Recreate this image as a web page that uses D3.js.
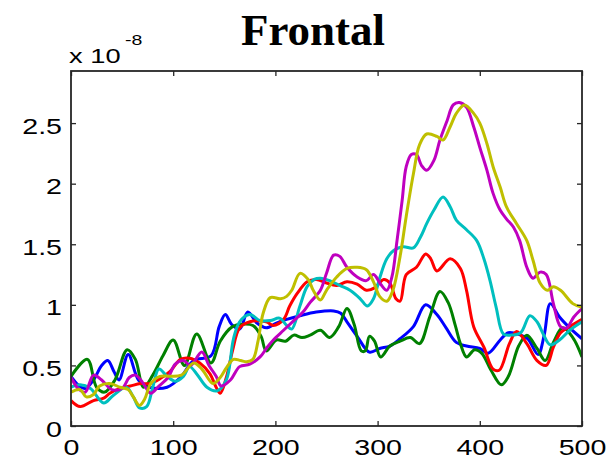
<!DOCTYPE html>
<html><head><meta charset="utf-8">
<script src="https://cdn.jsdelivr.net/npm/d3@7"></script>
<style>body{margin:0;background:#fff}</style>
</head><body>
<svg id="chart" width="606" height="459"></svg>
<script>
const chartTitle = "Frontal";
const xTicks = [0, 100, 200, 300, 400, 500];
const yTicks = [0, 0.5, 1, 1.5, 2, 2.5];
const yTickLabels = ["0", "0.5", "1", "1.5", "2", "2.5"];
const exponentBase = "x 10";
const exponentPower = "-8";

const blueSeries = [[0,0.41],[7,0.34],[14,0.31],[22,0.38],[30,0.50],[36,0.54],[42,0.45],[47,0.38],[56,0.59],[66,0.38],[77,0.32],[94,0.32],[107,0.40],[120,0.54],[137,0.58],[145,0.82],[151,0.92],[157,0.84],[165,0.80],[173,0.94],[182,0.85],[191,0.81],[201,0.85],[211,0.88],[224,0.91],[240,0.94],[257,0.95],[264,0.93],[270,0.86],[280,0.74],[292,0.61],[302,0.64],[312,0.66],[322,0.72],[335,0.82],[347,1.00],[358,0.92],[367,0.81],[377,0.69],[387,0.66],[400,0.64],[408,0.60],[420,0.71],[428,0.77],[440,0.75],[447,0.72],[457,0.59],[463,0.75],[469,1.01],[478,0.90],[488,0.81],[500,0.72]];
const greenSeries = [[0,0.41],[16,0.55],[25,0.32],[33,0.28],[43,0.38],[55,0.63],[63,0.55],[71,0.32],[80,0.42],[90,0.58],[100,0.71],[111,0.50],[123,0.76],[137,0.52],[146,0.70],[158,0.82],[168,0.84],[178,0.83],[186,0.74],[191,0.62],[201,0.71],[210,0.70],[218,0.75],[226,0.73],[234,0.75],[244,0.79],[253,0.73],[262,0.82],[270,0.97],[277,0.84],[284,0.62],[288,0.62],[292,0.74],[297,0.70],[303,0.57],[312,0.66],[322,0.70],[332,0.73],[341,0.68],[351,0.90],[361,1.11],[369,1.02],[376,0.83],[381,0.68],[387,0.57],[395,0.63],[402,0.60],[411,0.46],[421,0.34],[428,0.41],[438,0.66],[446,0.75],[456,0.64],[464,0.54],[472,0.69],[481,0.81],[491,0.73],[500,0.57]];
const redSeries = [[0,0.21],[9,0.16],[22,0.21],[32,0.23],[38,0.27],[48,0.31],[58,0.33],[68,0.35],[77,0.35],[87,0.39],[97,0.45],[107,0.55],[116,0.56],[126,0.52],[136,0.43],[142,0.32],[146,0.27],[152,0.40],[158,0.62],[165,0.81],[175,0.86],[191,0.86],[198,0.83],[208,0.88],[214,0.99],[221,1.09],[231,1.19],[240,1.21],[250,1.18],[260,1.16],[270,1.19],[280,1.17],[289,1.12],[297,1.14],[306,1.21],[312,1.18],[318,1.05],[322,1.03],[328,1.25],[338,1.31],[347,1.42],[352,1.38],[358,1.28],[371,1.38],[381,1.30],[387,1.12],[394,0.82],[404,0.65],[413,0.47],[419,0.46],[429,0.68],[436,0.78],[446,0.68],[456,0.54],[465,0.50],[472,0.65],[479,0.77],[488,0.82],[500,0.88]];
const cyanSeries = [[0,0.32],[9,0.34],[19,0.31],[32,0.19],[41,0.25],[54,0.32],[61,0.24],[67,0.15],[74,0.16],[80,0.32],[86,0.47],[94,0.41],[102,0.37],[110,0.41],[116,0.49],[123,0.43],[133,0.32],[143,0.29],[152,0.38],[159,0.72],[165,0.86],[175,0.92],[185,0.87],[195,0.87],[204,0.89],[211,0.83],[216,0.80],[224,0.99],[231,1.15],[238,1.21],[244,1.22],[253,1.20],[263,1.16],[273,1.12],[283,1.05],[290,0.99],[296,1.05],[302,1.22],[309,1.38],[316,1.45],[325,1.48],[335,1.47],[342,1.56],[348,1.67],[355,1.78],[364,1.89],[371,1.81],[377,1.70],[387,1.62],[397,1.53],[404,1.38],[410,1.20],[416,0.98],[423,0.76],[430,0.75],[440,0.77],[449,0.91],[456,0.86],[462,0.76],[469,0.67],[478,0.71],[488,0.79],[500,0.86]];
const magentaSeries = [[0,0.40],[8,0.30],[14,0.28],[22,0.42],[30,0.38],[40,0.30],[50,0.31],[57,0.40],[63,0.42],[70,0.36],[78,0.27],[86,0.33],[95,0.40],[102,0.51],[110,0.54],[117,0.50],[128,0.61],[135,0.50],[142,0.41],[147,0.33],[156,0.38],[165,0.49],[175,0.51],[185,0.57],[192,0.65],[198,0.71],[208,0.79],[218,0.87],[227,0.94],[234,1.02],[244,1.12],[250,1.26],[257,1.41],[263,1.40],[270,1.31],[280,1.23],[289,1.20],[296,1.25],[303,1.17],[309,1.12],[314,1.23],[319,1.53],[324,1.86],[328,2.14],[333,2.24],[338,2.24],[343,2.15],[348,2.11],[355,2.19],[361,2.36],[368,2.52],[374,2.65],[380,2.67],[387,2.63],[394,2.47],[400,2.30],[407,2.11],[413,1.92],[420,1.78],[426,1.71],[433,1.64],[439,1.53],[446,1.31],[452,1.22],[459,1.27],[465,1.25],[472,1.01],[479,0.82],[485,0.81],[492,0.90],[500,0.97]];
const yellowSeries = [[0,0.28],[9,0.30],[15,0.24],[22,0.26],[28,0.33],[38,0.35],[48,0.32],[56,0.30],[61,0.24],[67,0.17],[72,0.22],[78,0.35],[87,0.41],[97,0.41],[108,0.42],[120,0.52],[128,0.47],[139,0.35],[146,0.40],[152,0.48],[159,0.55],[166,0.54],[172,0.53],[178,0.55],[183,0.70],[188,0.93],[195,1.06],[205,1.05],[211,1.07],[216,1.12],[224,1.26],[232,1.21],[237,1.12],[244,1.04],[250,1.12],[260,1.23],[270,1.30],[280,1.31],[289,1.29],[296,1.19],[302,1.07],[309,1.03],[315,1.12],[322,1.40],[328,1.73],[335,2.08],[341,2.32],[348,2.41],[358,2.39],[364,2.36],[371,2.47],[377,2.58],[385,2.65],[394,2.58],[400,2.50],[407,2.33],[413,2.14],[420,1.97],[426,1.81],[436,1.67],[446,1.53],[452,1.37],[459,1.18],[466,1.12],[472,1.15],[479,1.12],[491,1.01],[500,0.98]];

const seriesList = [blueSeries, greenSeries, redSeries, cyanSeries, magentaSeries, yellowSeries];
const seriesColors = ["#0000ff", "#008000", "#ff0000", "#00bfbf", "#bf00bf", "#bfbf00"];

const L = 71, R = 582, T = 71, B = 426;
const SX = 1.3;
const svg = d3.select("#chart");
const x = d3.scaleLinear().domain([0, 500]).range([L, R]);
const y = d3.scaleLinear().domain([0, 2.93]).range([B, T]);

const line = d3.line().x(d => x(d[0])).y(d => y(d[1])).curve(d3.curveCatmullRom.alpha(0.5));
const plot = svg.append("g");
plot.append("clipPath").attr("id", "clip").append("rect")
  .attr("x", L).attr("y", T).attr("width", R - L).attr("height", B - T);
const lines = plot.append("g").attr("clip-path", "url(#clip)");
seriesList.forEach((s, i) => {
  lines.append("path").datum(s).attr("d", line)
    .attr("fill", "none").attr("stroke", seriesColors[i])
    .attr("stroke-width", 3).attr("stroke-linejoin", "round");
});

const axisColor = "#262626";
const fontFam = "'Liberation Sans', Arial, Helvetica, sans-serif";

// bottom axis
const gx = svg.append("g").attr("transform", `translate(0,${B})`)
  .call(d3.axisBottom(x).tickValues(xTicks).tickSizeInner(-5).tickSizeOuter(0).tickFormat(d3.format("d")));
gx.select(".domain").remove();
gx.selectAll(".tick line").attr("stroke", axisColor).attr("stroke-width", 1.3);
gx.selectAll(".tick text").attr("x", 0).attr("y", 29).attr("dy", 0)
  .attr("transform", `scale(${SX},1)`)
  .attr("font-family", fontFam).attr("font-size", 22).attr("fill", "#000");
// top ticks
const gt = svg.append("g").attr("transform", `translate(0,${T})`)
  .call(d3.axisTop(x).tickValues(xTicks).tickSizeInner(-5).tickSizeOuter(0).tickFormat(""));
gt.select(".domain").remove();
gt.selectAll(".tick line").attr("stroke", axisColor).attr("stroke-width", 1.3);
// left axis
const gy = svg.append("g").attr("transform", `translate(${L},0)`)
  .call(d3.axisLeft(y).tickValues(yTicks).tickSizeInner(-5).tickSizeOuter(0).tickFormat((d, i) => yTickLabels[i]));
gy.select(".domain").remove();
gy.selectAll(".tick line").attr("stroke", axisColor).attr("stroke-width", 1.3);
gy.selectAll(".tick text").attr("x", -9 / SX).attr("y", 10).attr("dy", 0)
  .attr("transform", `scale(${SX},1)`)
  .attr("font-family", fontFam).attr("font-size", 22).attr("fill", "#000");
// right ticks
const gr = svg.append("g").attr("transform", `translate(${R},0)`)
  .call(d3.axisRight(y).tickValues(yTicks).tickSizeInner(-5).tickSizeOuter(0).tickFormat(""));
gr.select(".domain").remove();
gr.selectAll(".tick line").attr("stroke", axisColor).attr("stroke-width", 1.3);

// box
svg.append("rect").attr("x", L).attr("y", T).attr("width", R - L).attr("height", B - T)
  .attr("fill", "none").attr("stroke", axisColor).attr("stroke-width", 1.8);

// exponent label
const ex = svg.append("g").attr("transform", `translate(69,63) scale(${SX},1)`);
ex.append("text").attr("x", 0).attr("y", 0).attr("font-family", fontFam).attr("font-size", 21)
  .attr("fill", "#000").text(exponentBase);
ex.append("text").attr("x", 43).attr("y", -18).attr("font-family", fontFam).attr("font-size", 15)
  .attr("fill", "#000").text(exponentPower);

// title
svg.append("text").attr("x", 313).attr("y", 45).attr("text-anchor", "middle")
  .attr("font-family", "'Liberation Serif', 'Times New Roman', serif").attr("font-weight", "bold")
  .attr("font-size", 45).attr("fill", "#000").text(chartTitle);
</script>
</body></html>
